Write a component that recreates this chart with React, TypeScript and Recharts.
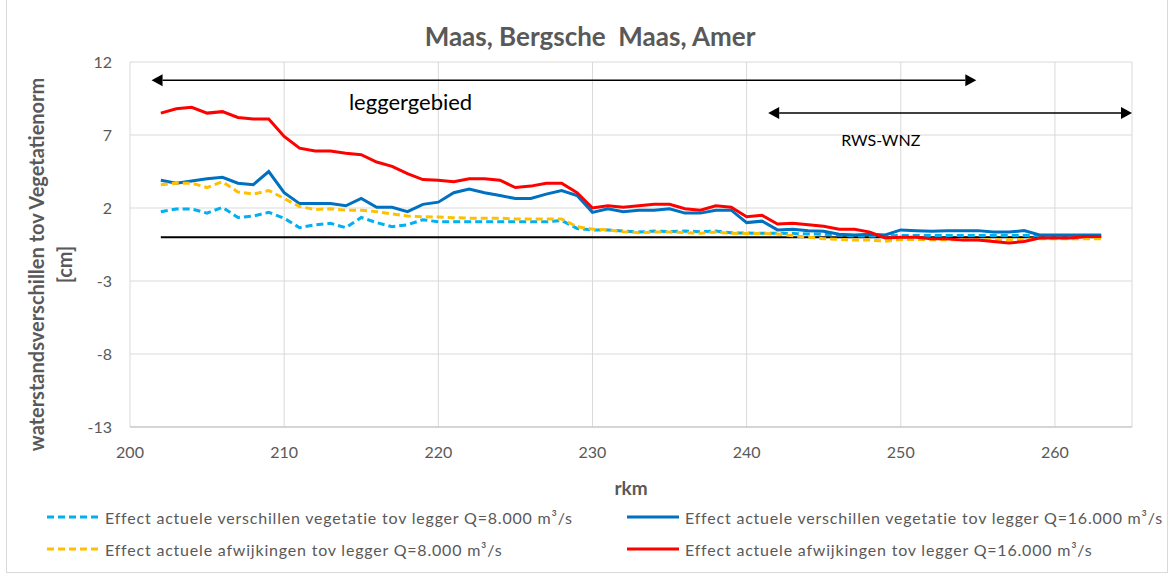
import React from "react";
import {
  CartesianGrid,
  Line,
  LineChart,
  ReferenceDot,
  ReferenceLine,
  XAxis,
  YAxis,
} from "recharts";

const FONT = "Lato, 'Open Sans', sans-serif";
const GREY_TEXT = "#595959";

// rivierkilometers
const km = [
  202, 203, 204, 205, 206, 207, 208, 209, 210, 211, 212, 213, 214, 215, 216,
  217, 218, 219, 220, 221, 222, 223, 224, 225, 226, 227, 228, 229, 230, 231,
  232, 233, 234, 235, 236, 237, 238, 239, 240, 241, 242, 243, 244, 245, 246,
  247, 248, 249, 250, 251, 252, 253, 254, 255, 256, 257, 258, 259, 260, 261,
  262, 263,
];

// Effect actuele verschillen vegetatie tov legger Q=8.000
const vegetatie8000 = [
  1.75, 1.93, 1.93, 1.65, 2.05, 1.35, 1.45, 1.7, 1.3, 0.65, 0.85, 0.95, 0.65,
  1.35, 1.0, 0.72, 0.85, 1.2, 1.05, 1.05, 1.05, 1.05, 1.05, 1.05, 1.05, 1.05,
  1.15, 0.6, 0.5, 0.5, 0.42, 0.35, 0.42, 0.38, 0.42, 0.38, 0.42, 0.3, 0.28,
  0.27, 0.27, 0.25, 0.22, 0.2, 0.15, 0.08, 0.08, 0.08, 0.12, 0.12, 0.12, 0.12,
  0.12, 0.12, 0.12, 0.12, 0.12, 0.12, 0.12, 0.12, 0.12, 0.12,
];

// Effect actuele verschillen vegetatie tov legger Q=16.000
const vegetatie16000 = [
  3.9, 3.7, 3.85, 4.0, 4.1, 3.7, 3.6, 4.5, 3.05, 2.3, 2.3, 2.3, 2.15, 2.65,
  2.05, 2.05, 1.75, 2.25, 2.4, 3.05, 3.3, 3.05, 2.85, 2.65, 2.65, 2.95, 3.2,
  2.85, 1.7, 1.95, 1.75, 1.85, 1.85, 1.95, 1.65, 1.65, 1.85, 1.85, 1.0, 1.1,
  0.5, 0.55, 0.45, 0.4, 0.2, 0.15, 0.2, 0.15, 0.5, 0.45, 0.4, 0.45, 0.45, 0.45,
  0.35, 0.35, 0.45, 0.15, 0.15, 0.15, 0.15, 0.15,
];

// Effect actuele afwijkingen tov legger Q=8.000
const afwijkingen8000 = [
  3.6, 3.7, 3.7, 3.4, 3.8, 3.1, 2.95, 3.2, 2.65, 2.1, 1.9, 1.95, 1.85, 1.85,
  1.75, 1.6, 1.45, 1.4, 1.38, 1.34, 1.3, 1.3, 1.3, 1.25, 1.25, 1.25, 1.25,
  0.72, 0.55, 0.5, 0.38, 0.3, 0.35, 0.35, 0.32, 0.27, 0.35, 0.27, 0.25, 0.25,
  0.22, 0.1, 0.0, -0.1, -0.15, -0.2, -0.2, -0.27, -0.15, -0.15, -0.17, -0.17,
  -0.17, -0.17, -0.17, -0.17, -0.15, -0.1, -0.1, -0.1, -0.1, -0.1,
];

// Effect actuele afwijkingen tov legger Q=16.000
const afwijkingen16000 = [
  8.5, 8.8, 8.9, 8.5, 8.6, 8.2, 8.1, 8.1, 6.9, 6.1, 5.9, 5.9, 5.75, 5.65, 5.15,
  4.85, 4.35, 3.95, 3.9, 3.8, 4.0, 4.0, 3.9, 3.4, 3.5, 3.7, 3.7, 3.05, 2.0,
  2.15, 2.05, 2.15, 2.25, 2.25, 1.95, 1.85, 2.15, 2.05, 1.4, 1.5, 0.9, 0.95,
  0.85, 0.75, 0.55, 0.55, 0.35, -0.05, 0.0, 0.0, -0.1, -0.1, -0.2, -0.2, -0.3,
  -0.4, -0.3, -0.05, -0.05, -0.05, 0.05, 0.05,
];

const xTicks = [200, 210, 220, 230, 240, 250, 260];
const yTicks = [-13, -8, -3, 2, 7, 12];

const series = [
  {
    key: "vl8",
    name: "Effect actuele verschillen vegetatie tov legger Q=8.000 m³/s",
    color: "#00B0F0",
    dashed: true,
  },
  {
    key: "vl16",
    name: "Effect actuele verschillen vegetatie tov legger Q=16.000 m³/s",
    color: "#0070C0",
    dashed: false,
  },
  {
    key: "af8",
    name: "Effect actuele afwijkingen tov legger Q=8.000 m³/s",
    color: "#FFC000",
    dashed: true,
  },
  {
    key: "af16",
    name: "Effect actuele afwijkingen tov legger Q=16.000 m³/s",
    color: "#FF0000",
    dashed: false,
  },
];

const data = km.map((k, i) => ({
  km: k,
  nul: 0,
  vl8: vegetatie8000[i],
  vl16: vegetatie16000[i],
  af8: afwijkingen8000[i],
  af16: afwijkingen16000[i],
}));

// double headed arrow for the area annotations
const arrowShape = (props: any) => {
  const { x1, y1, x2, y2 } = props;
  const h = 11;
  const w = 6;
  return (
    <g>
      <line x1={x1 + h} y1={y1} x2={x2 - h} y2={y2} stroke="#000" strokeWidth={1.5} />
      <polygon points={`${x1},${y1} ${x1 + h},${y1 - w} ${x1 + h},${y1 + w}`} fill="#000" />
      <polygon points={`${x2},${y2} ${x2 - h},${y2 - w} ${x2 - h},${y2 + w}`} fill="#000" />
    </g>
  );
};

const renderYTitle = (props: any) => {
  const vb = props.viewBox;
  const cy = vb.y + vb.height / 2 + 20;
  const x1 = vb.x + 36;
  const x2 = vb.x + 64;
  return (
    <g fill={GREY_TEXT} fontFamily={FONT} fontWeight={700} fontSize={20}>
      <text x={x1} y={cy} transform={`rotate(-90 ${x1} ${cy})`} textAnchor="middle" dominantBaseline="central">
        waterstandsverschillen tov Vegetatienorm
      </text>
      <text x={x2} y={cy} transform={`rotate(-90 ${x2} ${cy})`} textAnchor="middle" dominantBaseline="central">
        [cm]
      </text>
    </g>
  );
};

const renderXTitle = (props: any) => {
  const vb = props.viewBox;
  return (
    <text
      x={vb.x + vb.width / 2}
      y={vb.y + 60}
      textAnchor="middle"
      dominantBaseline="central"
      fill={GREY_TEXT}
      fontFamily={FONT}
      fontWeight={700}
      fontSize={19}
    >
      rkm
    </text>
  );
};

function LegendItem({ s }: { s: (typeof series)[number] }) {
  return (
    <div style={{ display: "flex", alignItems: "center", height: 32 }}>
      <svg width={52} height={10} style={{ marginRight: 6 }}>
        <line
          x1={0}
          y1={5}
          x2={52}
          y2={5}
          stroke={s.color}
          strokeWidth={3}
          strokeDasharray={s.dashed ? "7 4" : undefined}
        />
      </svg>
      <span style={{ fontSize: 16, color: GREY_TEXT, letterSpacing: 0.8, whiteSpace: "nowrap" }}>
        {s.name}
      </span>
    </div>
  );
}

export default function App() {
  return (
    <div
      style={{
        position: "absolute",
        left: 0,
        top: 0,
        width: 1169,
        height: 576,
        background: "#fff",
        fontFamily: FONT,
        overflow: "hidden",
      }}
    >
      <div
        style={{
          position: "absolute",
          left: 6,
          top: 0,
          width: 1160,
          height: 572,
          border: "1px solid #d9d9d9",
          borderTop: "none",
        }}
      />
      <div
        style={{
          position: "absolute",
          left: 0,
          top: 20,
          width: 1180,
          textAlign: "center",
          fontSize: 26,
          fontWeight: 700,
          color: GREY_TEXT,
          whiteSpace: "pre",
        }}
      >
        Maas, Bergsche  Maas, Amer
      </div>
      <div style={{ position: "absolute", left: 0, top: 0 }}>
        <LineChart
          width={1169}
          height={576}
          data={data}
          margin={{ top: 62, right: 37, bottom: 89, left: 0 }}
        >
          <CartesianGrid stroke="#d9d9d9" strokeWidth={1} />
          <XAxis
            dataKey="km"
            type="number"
            domain={[200, 265]}
            ticks={xTicks}
            interval={0}
            height={60}
            stroke="#bfbfbf"
            tickLine={false}
            tickSize={0}
            tickMargin={20}
            tick={{ fill: GREY_TEXT, fontSize: 16, fontFamily: FONT }}
            label={renderXTitle}
          />
          <YAxis
            type="number"
            domain={[-13, 12]}
            ticks={yTicks}
            interval={0}
            width={130}
            axisLine={false}
            tickLine={false}
            tickSize={0}
            tickMargin={18}
            tick={{ fill: GREY_TEXT, fontSize: 16, fontFamily: FONT }}
            label={renderYTitle}
          />
          <Line
            dataKey="nul"
            stroke="#000"
            strokeWidth={2}
            dot={false}
            isAnimationActive={false}
            legendType="none"
          />
          {series.map((s) => (
            <Line
              key={s.key}
              dataKey={s.key}
              name={s.name}
              stroke={s.color}
              strokeWidth={3}
              strokeDasharray={s.dashed ? "7 4" : undefined}
              dot={false}
              isAnimationActive={false}
            />
          ))}
          <ReferenceLine
            segment={[
              { x: 201.4, y: 10.75 },
              { x: 254.9, y: 10.75 },
            ]}
            shape={arrowShape}
            ifOverflow="visible"
          />
          <ReferenceLine
            segment={[
              { x: 241.4, y: 8.5 },
              { x: 265, y: 8.5 },
            ]}
            shape={arrowShape}
            ifOverflow="visible"
          />
          <ReferenceDot
            x={218.2}
            y={9.25}
            r={1}
            fill="none"
            stroke="none"
            label={{ value: "leggergebied", position: "center", fill: "#000", fontSize: 22, fontFamily: FONT }}
          />
          <ReferenceDot
            x={248.7}
            y={6.65}
            r={1}
            fill="none"
            stroke="none"
            label={{ value: "RWS-WNZ", position: "center", fill: "#000", fontSize: 16, fontFamily: FONT }}
          />
        </LineChart>
      </div>
      <div
        style={{
          position: "absolute",
          left: 47,
          top: 501,
          display: "grid",
          gridTemplateColumns: "580px 540px",
        }}
      >
        {series.map((s) => (
          <LegendItem key={s.key} s={s} />
        ))}
      </div>
    </div>
  );
}
